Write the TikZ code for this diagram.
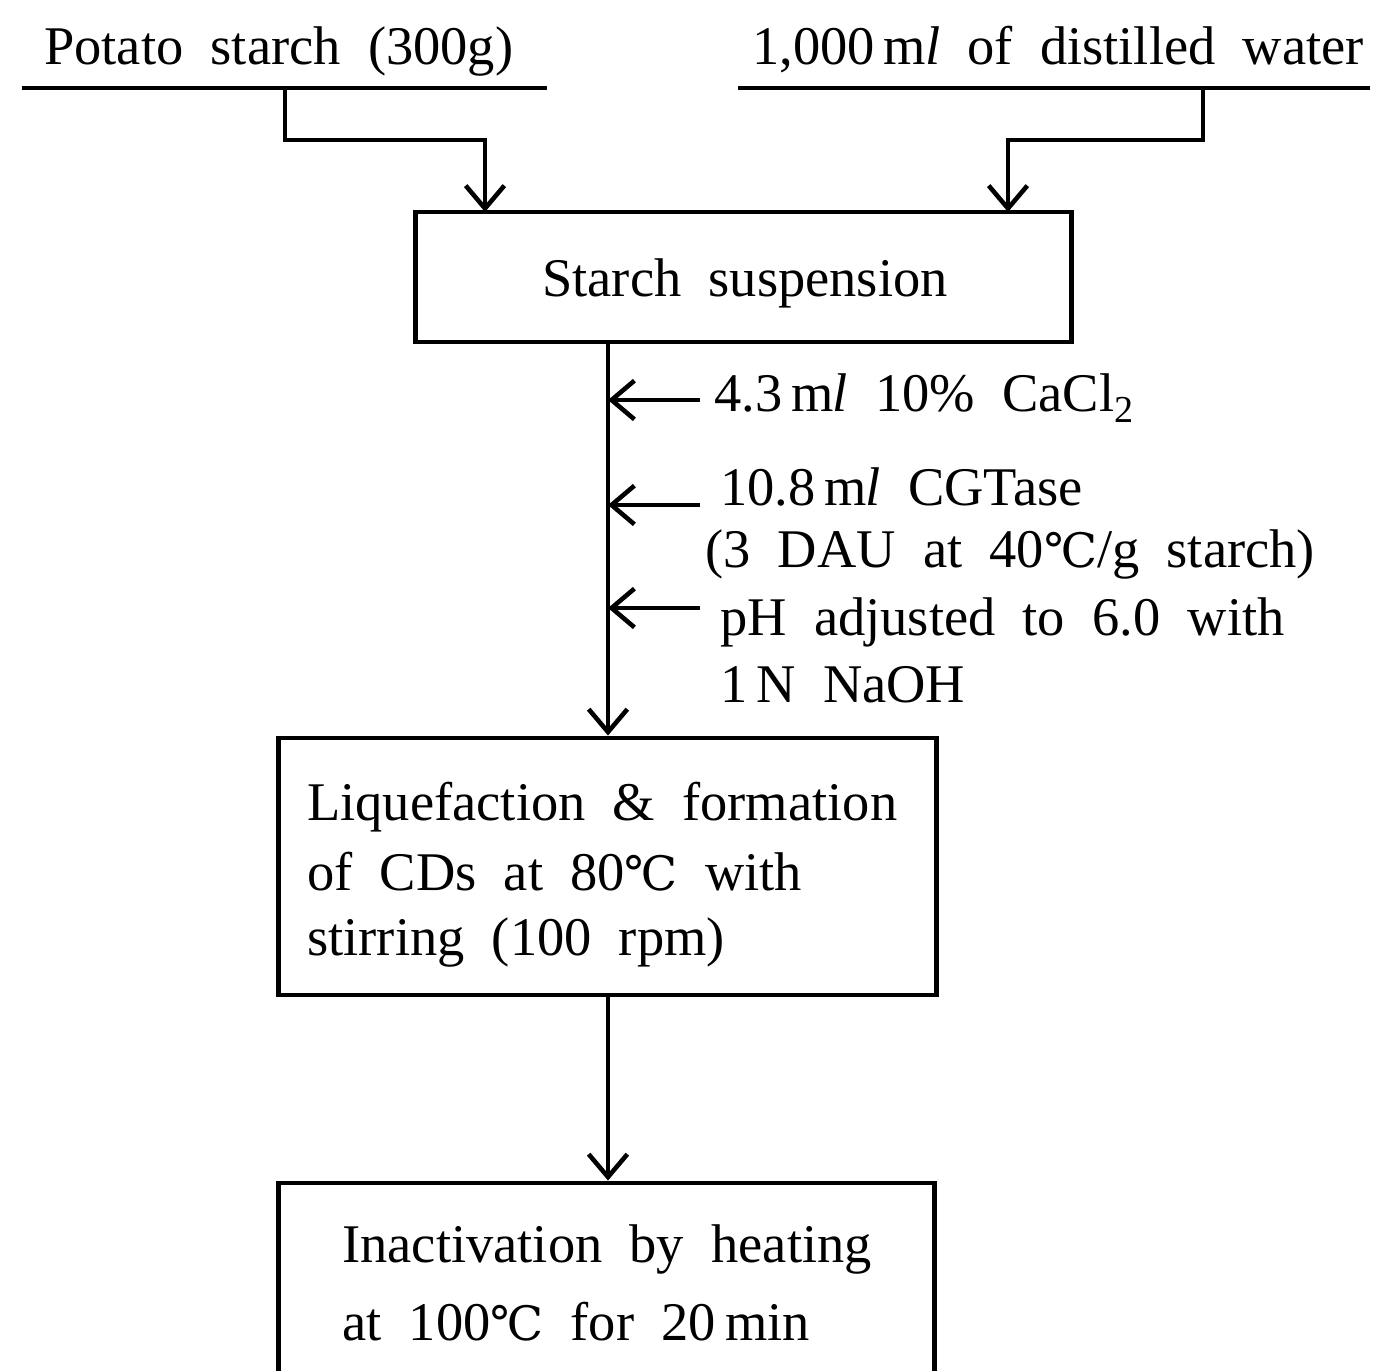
\documentclass[tikz,border=0pt]{standalone}
\usepackage{fontspec}
\setmainfont{Liberation Serif}[WordSpace=2]
\newfontfamily\dvs{DejaVu Serif}
\usetikzlibrary{arrows.meta}
\newcommand{\dgC}{{\dvs\fontsize{27}{27}\selectfont ℃}}
\newcommand{\mlu}{m\kern-0.02em\textit{l}}
\begin{document}
\begin{tikzpicture}[x=0.02cm,y=-0.02cm,line width=2.6pt,
  txt/.style={anchor=base west,inner sep=0pt,font=\fontsize{31}{36}\selectfont},
  boxnode/.style={draw,line width=2.8pt,inner sep=0pt},
  arr/.style={-{Straight Barb[length=13pt,width=22pt]}}]
\useasboundingbox (0,0) rectangle (1395,1371);
% headings
\node[txt] (ps) at (42,65) {Potato starch (300g)};
\node[txt] (dw) at (750,65) {1,000\,\mlu{} of distilled water};
\coordinate (la) at (22,88); \coordinate (lb) at (547,88);
\coordinate (ra) at (738,88); \coordinate (rb) at (1370,88);
\draw (la) -- (lb);
\draw (ra) -- (rb);
% box 1
\node[boxnode,minimum width=13.14cm,minimum height=2.6cm] (b1) at (743.5,277) {};
\node[txt] (t1) at (540,297) {Starch suspension};
% connectors from top
\coordinate (ls) at (285,88); \coordinate (lt) at (485,212);
\coordinate (rs) at (1203,88); \coordinate (rt) at (1008,212);
\draw[arr] (ls) -- ++(0,52) -| (lt);
\draw[arr] (rs) -- ++(0,52) -| (rt);
% box 2
\node[boxnode,minimum width=13.18cm,minimum height=5.14cm] (b2) at (607.5,866.5) {};
\node[txt] (t2a) at (305,820) {Liquefaction \& formation};
\node[txt] (t2b) at (305,890) {of CDs at 80\dgC{} with};
\node[txt] (t2c) at (305,955) {stirring (100 rpm)};
% main line
\coordinate (mx) at (608,0);
\draw[arr] (b1.south -| mx) -- (b2.north -| mx);
% side additions
\coordinate (s1) at (700,400);
\coordinate (s2) at (700,505);
\coordinate (s3) at (700,608);
\draw[arr] (s1) -- (s1 -| mx);
\draw[arr] (s2) -- (s2 -| mx);
\draw[arr] (s3) -- (s3 -| mx);
\node[txt] (a1) at (712,412) {4.3\,\mlu{} 10\% CaCl\textsubscript{2}};
\node[txt] (a2) at (718,505) {10.8\,\mlu{} CGTase};
\node[txt] (a3) at (703,567) {(3 DAU at 40\dgC/g starch)};
\node[txt] (a4) at (718,635) {pH adjusted to 6.0 with};
\node[txt] (a5) at (718,702) {1\,N NaOH};
% box 3
\node[boxnode,minimum width=13.14cm,minimum height=3.8cm] (b3) at (606.5,1278) {};
\node[txt] (t3a) at (340,1262) {Inactivation by heating};
\node[txt] (t3b) at (340,1340) {at 100\dgC{} for 20\,min};
\draw[arr] (b2.south -| mx) -- (b3.north -| mx);
\end{tikzpicture}
\end{document}
